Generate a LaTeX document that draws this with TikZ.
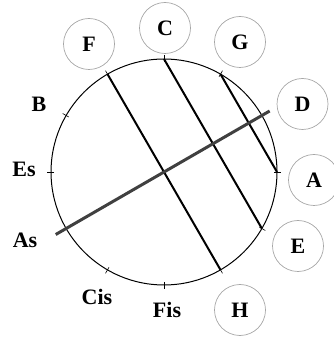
\documentclass[tikz,border=0pt]{standalone}
\usepackage{fontspec}
\setmainfont{Liberation Serif}
\usetikzlibrary{calc}
\begin{document}
\begin{tikzpicture}[x=1pt,y=1pt,
  note/.style={circle,draw=black!35,line width=0.7pt,minimum size=51pt,inner sep=0pt,font=\fontsize{22}{22}\selectfont\bfseries},
  lab/.style={inner sep=0pt,font=\fontsize{22}{22}\selectfont\bfseries},
  chord/.style={line width=2pt,black},
  axisline/.style={line width=3pt,black!75},
  tick/.style={line width=0.6pt,black}]
\useasboundingbox (0,0) rectangle (333,342);
\coordinate (O) at (164,170);
\draw[line width=1pt] (O) circle (113);
% points on circle
\foreach \n/\a in {C/90,G/60,D/30,A/0,E/-30,H/-60,Fis/-90,Cis/-120,As/-150,Es/180,B/150,F/120}{
  \coordinate (p\n) at ([shift={(164,170)}]\a:113);
  \draw[tick] ([shift={(164,170)}]\a:110) -- ([shift={(164,170)}]\a:117);
}
% chords
\draw[chord] (pF) -- (pH);
\draw[chord] (pC) -- (pE);
\draw[chord] (pG) -- (pA);
\coordinate (eAs) at ($(pAs)!-12pt!(pD)$);
\coordinate (eD) at ($(pD)!-9pt!(pAs)$);
\draw[axisline] (eAs) -- (eD);
% circled notes
\node[note] (nF) at (89,298) {F};
\node[note] (nC) at (165,314) {C};
\node[note] (nG) at (240,300) {G};
\node[note] (nD) at (302.5,238) {D};
\node[note] (nA) at (314,162) {A};
\node[note] (nE) at (298,96) {E};
\node[note] (nH) at (240,32) {H};
% plain labels
\node[lab] (lB) at (39,238) {B};
\node[lab] (lEs) at (24,173) {Es};
\node[lab] (lAs) at (25,102) {As};
\node[lab] (lCis) at (97,45) {Cis};
\node[lab] (lFis) at (167,32) {Fis};
\end{tikzpicture}
\end{document}
